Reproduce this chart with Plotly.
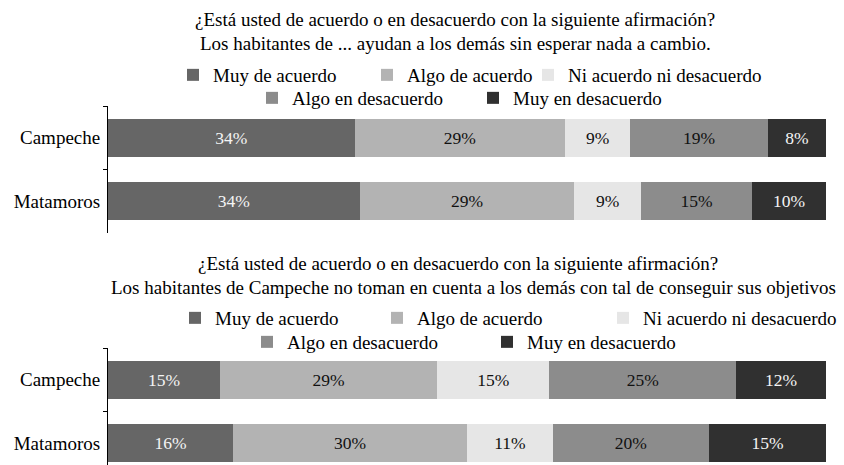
import plotly.graph_objects as go

# --- data -------------------------------------------------------------
cities = ["Campeche", "Matamoros"]
answers = [
    "Muy de acuerdo",
    "Algo de acuerdo",
    "Ni acuerdo ni desacuerdo",
    "Algo en desacuerdo",
    "Muy en desacuerdo",
]
# percentage per answer, [Campeche, Matamoros]
ayudan_sin_esperar = [[34, 34], [29, 29], [9, 9], [19, 15], [8, 10]]
no_toman_en_cuenta = [[15, 16], [29, 30], [15, 11], [25, 20], [12, 15]]

title_top = [
    "¿Está usted de acuerdo o en desacuerdo con la siguiente afirmación?",
    "Los habitantes de ... ayudan a los demás sin esperar nada a cambio.",
]
title_bottom = [
    "¿Está usted de acuerdo o en desacuerdo con la siguiente afirmación?",
    "Los habitantes de Campeche no toman en cuenta a los demás con tal de conseguir sus objetivos",
]

# --- styling ----------------------------------------------------------
W, H = 844, 465
FONT = "'Liberation Serif', 'Times New Roman', Times, serif"
bar_colors = ["#666666", "#b3b3b3", "#e6e6e6", "#8c8c8c", "#303030"]
label_colors = ["#f4f4f4", "#111111", "#111111", "#111111", "#f4f4f4"]

# legend rows: which legend each answer goes to, and entry widths
legend_top = ["legend", "legend", "legend", "legend2", "legend2"]
width_top = [149, 116, 0, 176, 0]
legend_bottom = ["legend3", "legend3", "legend3", "legend4", "legend4"]
width_bottom = [157, 181, 0, 195, 0]


def px_x(x):
    return x / W


def px_y(y):
    return 1 - y / H


fig = go.Figure()


def add_panel(values, xaxis, yaxis, legends, widths):
    for i, name in enumerate(answers):
        fig.add_trace(go.Bar(
            orientation="h",
            y=cities,
            x=values[i],
            name=name,
            text=[f"{v}%" for v in values[i]],
            texttemplate="%{text}",
            textposition="inside",
            insidetextanchor="middle",
            constraintext="none",
            textangle=0,
            textfont=dict(family=FONT, size=17.5, color=label_colors[i]),
            marker=dict(color=bar_colors[i], line=dict(width=0)),
            xaxis=xaxis,
            yaxis=yaxis,
            legend=legends[i],
            legendwidth=widths[i] if widths[i] else None,
            hoverinfo="skip",
        ))


add_panel(ayudan_sin_esperar, "x", "y", legend_top, width_top)
add_panel(no_toman_en_cuenta, "x2", "y2", legend_bottom, width_bottom)

x_dom = [px_x(108), px_x(826)]
axis_y_common = dict(
    type="category",
    showline=True,
    linecolor="#000000",
    linewidth=1,
    ticks="outside",
    ticklen=4,
    tickcolor="#000000",
    tickwidth=1,
    tickson="boundaries",
    ticklabelstandoff=3,
    showgrid=False,
    zeroline=False,
    tickfont=dict(family=FONT, size=19, color="#000000"),
    fixedrange=True,
)
axis_x_common = dict(visible=False, range=[0, 100], fixedrange=True)

legend_common = dict(
    orientation="h",
    traceorder="normal",
    xanchor="left",
    yanchor="middle",
    bgcolor="rgba(0,0,0,0)",
    borderwidth=0,
    font=dict(family=FONT, size=19, color="#000000"),
    itemclick=False,
    itemdoubleclick=False,
)

annotations = []
for text, cx, cy in [
    (title_top[0], 455, 20),
    (title_top[1], 455, 44),
    (title_bottom[0], 458, 263),
    (title_bottom[1], 473, 287),
]:
    annotations.append(dict(
        text=text, x=px_x(cx), y=px_y(cy), xref="paper", yref="paper",
        xanchor="center", yanchor="middle", showarrow=False,
        font=dict(family=FONT, size=19, color="#000000"),
    ))

fig.update_layout(
    width=W,
    height=H,
    margin=dict(l=0, r=0, t=0, b=0, autoexpand=False),
    paper_bgcolor="#ffffff",
    plot_bgcolor="#ffffff",
    barmode="stack",
    barnorm="percent",
    bargap=0.4,
    hovermode=False,
    xaxis=dict(domain=x_dom, anchor="y", **axis_x_common),
    yaxis=dict(domain=[px_y(233), px_y(106)], anchor="x",
               range=[1.5, -0.5], **axis_y_common),
    xaxis2=dict(domain=x_dom, anchor="y2", **axis_x_common),
    yaxis2=dict(domain=[0, px_y(348)], anchor="x2",
                range=[-0.5 + 117 / 63.5, -0.5], **axis_y_common),
    legend=dict(x=px_x(213 - 40), y=px_y(75), **legend_common),
    legend2=dict(x=px_x(292 - 40), y=px_y(98), **legend_common),
    legend3=dict(x=px_x(215 - 40), y=px_y(318), **legend_common),
    legend4=dict(x=px_x(287 - 40), y=px_y(342), **legend_common),
    annotations=annotations,
    showlegend=True,
)

fig.write_html("out.html", config={"displayModeBar": False})
